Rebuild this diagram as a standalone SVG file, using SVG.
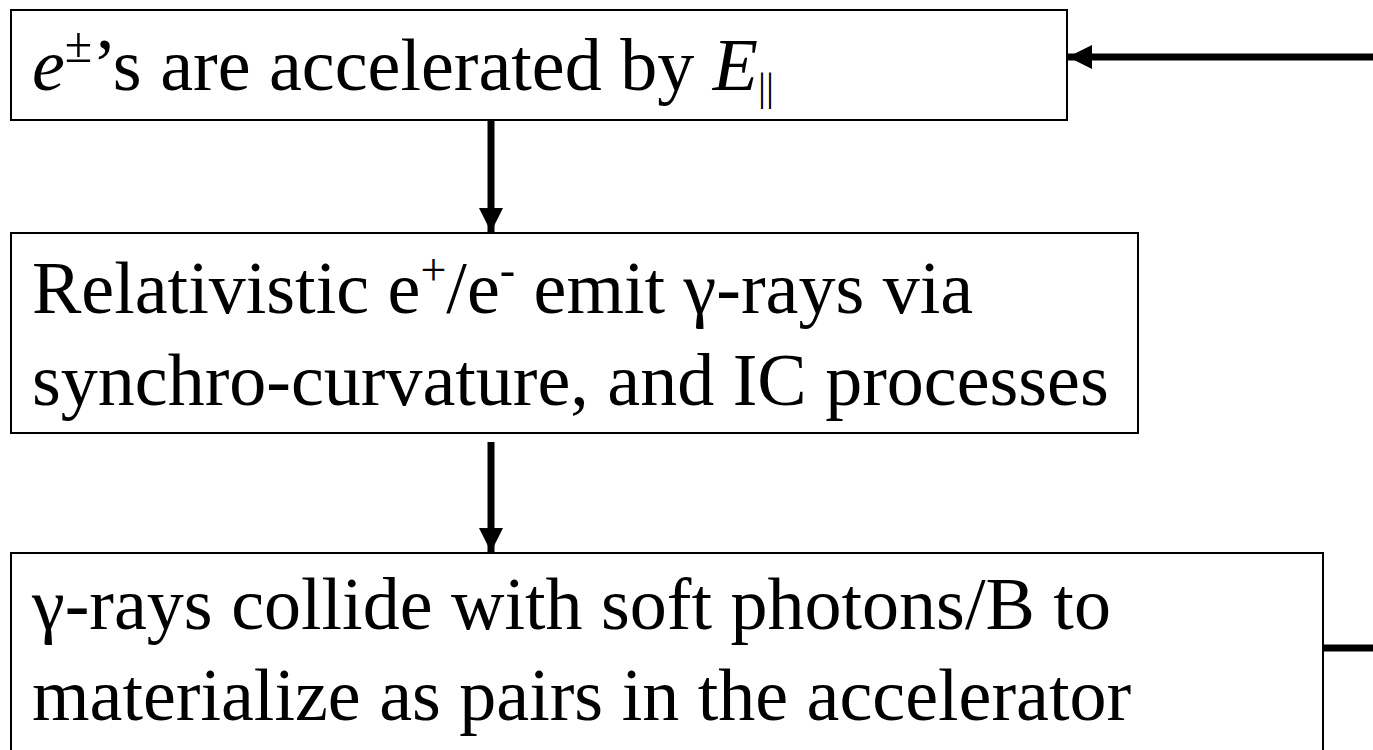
<svg xmlns="http://www.w3.org/2000/svg" width="1373" height="750" viewBox="0 0 1373 750">
<style>
.box{fill:#fff;stroke:#000;stroke-width:2}
.t{font-family:"Liberation Serif","Times New Roman",serif;font-size:74px;fill:#000}
.c{stroke:#000;stroke-width:7;fill:none}
</style>
<defs>
<marker id="ah" viewBox="0 0 24 24" refX="24" refY="12" markerWidth="24" markerHeight="24" markerUnits="userSpaceOnUse" orient="auto">
<path d="M0,0 L24,12 L0,24 Z" fill="#000"/>
</marker>
</defs>
<rect width="1373" height="750" fill="#fff"/>
<g id="node1">
<rect class="box" x="11" y="10" width="1056" height="110"/>
<text class="t" x="32" y="90"><tspan font-style="italic">e</tspan><tspan font-size="50" dy="-28">±</tspan><tspan dy="28">’s are accelerated by </tspan><tspan font-style="italic">E</tspan><tspan font-size="40" dy="10">||</tspan></text>
</g>
<g id="node2">
<rect class="box" x="11" y="233" width="1127" height="200"/>
<text class="t" x="32" y="313">Relativistic e<tspan font-size="46" dy="-28">+</tspan><tspan dy="28">/e</tspan><tspan font-size="46" dy="-28">-</tspan><tspan dy="28"> emit γ-rays via</tspan></text>
<text class="t" x="32" y="405">synchro-curvature, and IC processes</text>
</g>
<g id="node3">
<rect class="box" x="11" y="553" width="1312" height="220"/>
<text class="t" x="32" y="629">γ-rays collide with soft photons/B to</text>
<text class="t" x="32" y="720">materialize as pairs in the accelerator</text>
</g>
<g id="connectors">
<line class="c" x1="491" y1="121" x2="491" y2="232" marker-end="url(#ah)"/>
<line class="c" x1="491" y1="442" x2="491" y2="552" marker-end="url(#ah)"/>
<line class="c" x1="1373" y1="57" x2="1068" y2="57" marker-end="url(#ah)"/>
<line class="c" x1="1323" y1="648" x2="1373" y2="648"/>
</g>
</svg>
